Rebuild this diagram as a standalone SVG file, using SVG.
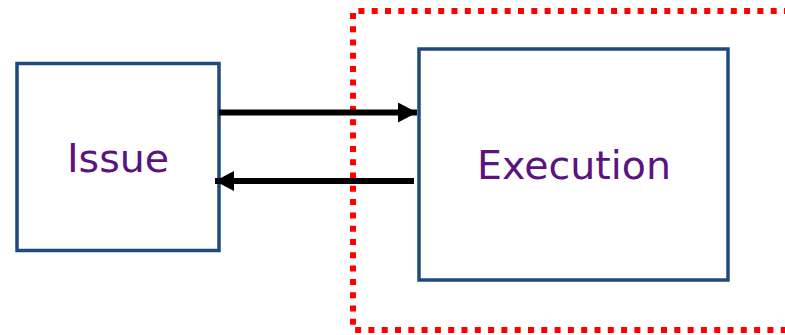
<svg xmlns="http://www.w3.org/2000/svg" width="785" height="335" viewBox="0 0 785 335">
  <style>
    .box { fill: #ffffff; stroke: #1f4a7e; stroke-width: 3.5; }
    .label { font-family: "DejaVu Sans", Verdana, sans-serif; font-size: 39.5px; fill: #5a1480; text-anchor: middle; }
    .wire { stroke: #000000; stroke-width: 6; fill: none; }
    .zone { fill: none; stroke: #ff0000; stroke-width: 6; stroke-dasharray: 6 7.3; }
  </style>
  <defs>
    <marker id="head" markerUnits="userSpaceOnUse" markerWidth="19" markerHeight="20" refX="19" refY="10" orient="auto">
      <path d="M0,0 L19,10 L0,20 Z" fill="#000000"/>
    </marker>
  </defs>

  <!-- dotted boundary around the execution side -->
  <path class="zone" d="M790,11 L353,11 L353,330 L790,330"/>

  <g id="issue">
    <rect class="box" x="17" y="63.5" width="202" height="187"/>
    <text class="label" x="118" y="172">Issue</text>
  </g>

  <g id="execution">
    <rect class="box" x="419" y="49" width="309" height="231"/>
    <text class="label" x="574" y="178.5">Execution</text>
  </g>

  <g id="connectors">
    <line class="wire" x1="219" y1="112.5" x2="417" y2="112.5" marker-end="url(#head)"/>
    <line class="wire" x1="414" y1="181" x2="215" y2="181" marker-end="url(#head)"/>
  </g>
</svg>
